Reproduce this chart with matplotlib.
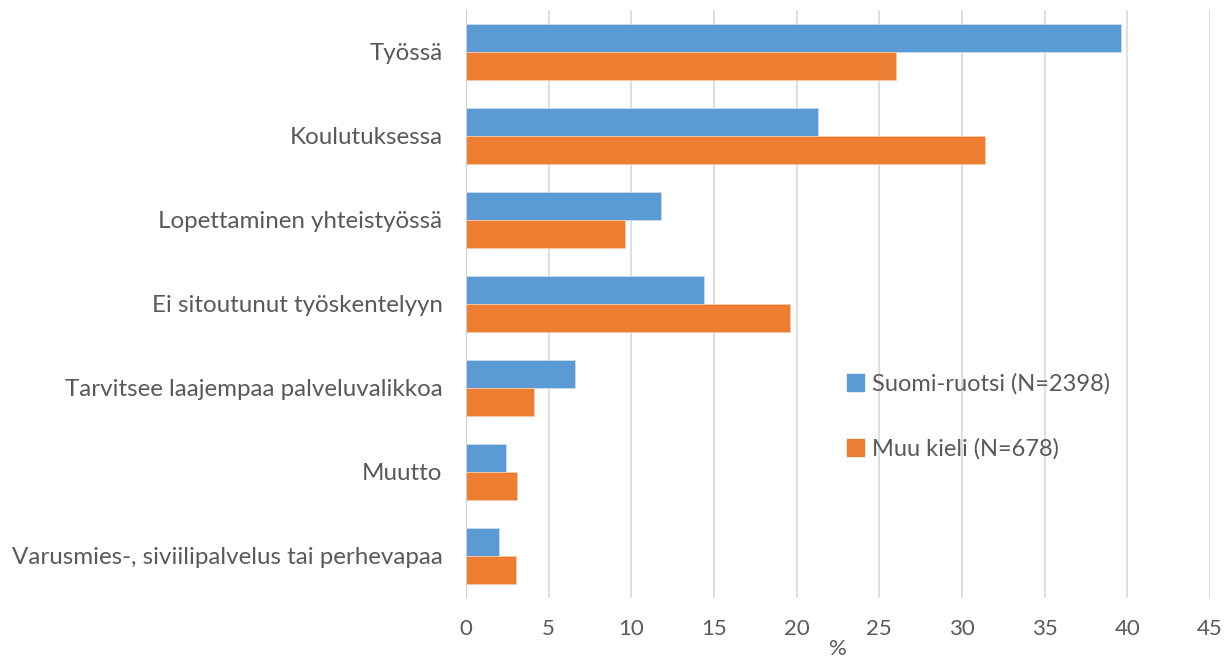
import matplotlib
matplotlib.use("Agg")
import matplotlib.pyplot as plt
import numpy as np
from matplotlib.patches import Patch

categories = ["Työssä", "Koulutuksessa", "Lopettaminen yhteistyössä",
              "Ei sitoutunut työskentelyyn", "Tarvitsee laajempaa palveluvalikkoa",
              "Muutto", "Varusmies-, siviilipalvelus tai perhevapaa"]
suomi = [39.6, 21.3, 11.8, 14.4, 6.6, 2.4, 2.0]
muu = [26.0, 31.4, 9.6, 19.6, 4.1, 3.1, 3.0]
series_names = ["Suomi-ruotsi (N=2398)", "Muu kieli (N=678)"]
xticks = [0, 5, 10, 15, 20, 25, 30, 35, 40, 45]

plt.rcParams['font.family'] = ['Lato', 'DejaVu Sans']
txt = '#595959'
blue = '#5B9BD5'
orange = '#ED7D31'

fig = plt.figure(figsize=(12.29, 6.64), dpi=100)
ax = fig.add_axes([466/1229, 1-598/664, (1210-466)/1229, 588/664])

n = len(categories)
y = np.arange(n)
h = 1/3
ax.barh(y - h/2, suomi, height=h, color=blue, edgecolor='#c9dcf0', linewidth=0.6, label=series_names[0], zorder=3)
ax.barh(y + h/2, muu, height=h, color=orange, edgecolor='#f7c9a8', linewidth=0.6, label=series_names[1], zorder=3)

ax.set_ylim(n - 0.5, -0.5)
ax.set_xlim(0, 45)
ax.set_xticks(xticks)
ax.set_yticks(y)
ax.set_yticklabels(categories, fontsize=17.4)
ax.grid(axis='x', color='#d9d9d9', linewidth=1.2, zorder=0)
ax.axvline(0, color='#d0d0d0', linewidth=1.5, zorder=4)
for s in ax.spines.values():
    s.set_visible(False)
ax.tick_params(axis='both', length=0, colors=txt)
ax.tick_params(axis='x', labelsize=16, pad=15)
ax.tick_params(axis='y', pad=17)
ax.set_xlabel('%', color=txt, fontsize=16, labelpad=0)

handles = [Patch(color=blue), Patch(color=orange)]
leg = fig.legend(handles, series_names, loc='upper left', bbox_to_anchor=(826/1229, 1-352/664),
                 frameon=False, fontsize=17, labelspacing=1.85, handlelength=0.7,
                 handleheight=0.7, handletextpad=0.35)
for t in leg.get_texts():
    t.set_color(txt)

fig.savefig('out.png', dpi=100)
